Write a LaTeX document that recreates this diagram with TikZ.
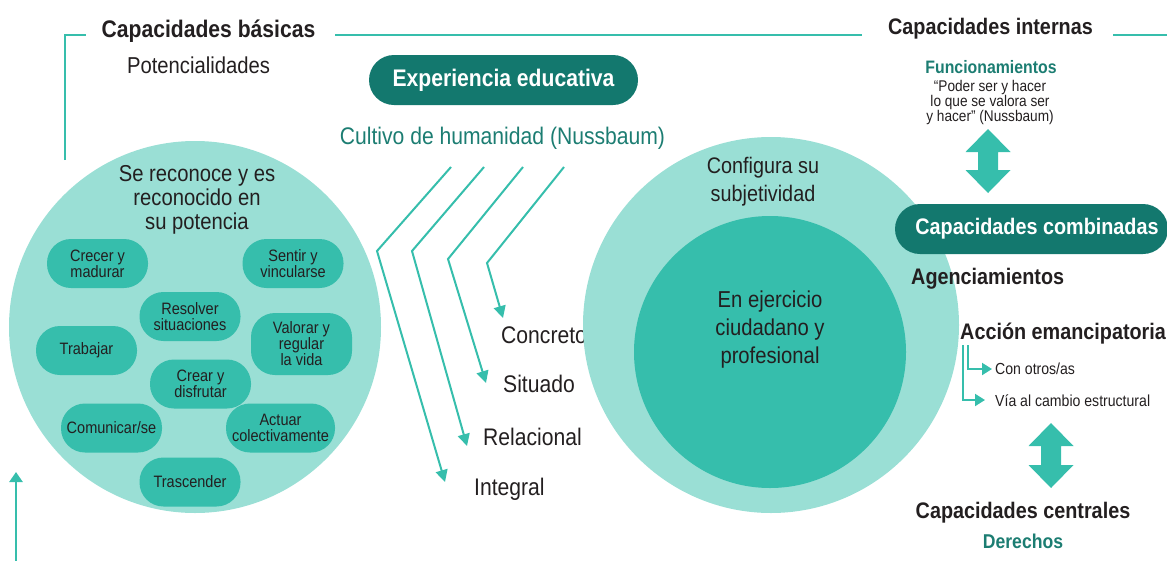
\documentclass[tikz,border=0pt]{standalone}
\usepackage{fontspec}
\setmainfont{Liberation Sans}[FakeStretch=0.88]
\usetikzlibrary{arrows.meta}
\definecolor{dteal}{RGB}{19,120,110}
\definecolor{mteal}{RGB}{54,190,172}
\definecolor{lteal}{RGB}{154,223,213}
\definecolor{tealtxt}{RGB}{28,125,114}
\definecolor{ink}{RGB}{35,31,32}
\newcommand{\fatdblarrow}[3]{% center x, top y, bottom y
  \fill[mteal] (#1,#2) -- ++(22.5,23) -- ++(-12.5,0) -- (#1+10,#3-23) -- ++(12.5,0) -- (#1,#3)
    -- ++(-22.5,-23) -- ++(12.5,0) -- (#1-10,#2+23) -- ++(-12.5,0) -- cycle;}
\begin{document}
\begin{tikzpicture}[x=1pt,y=-1pt,
  every node/.style={inner sep=0pt, text=ink},
  ttl/.style={font=\fontsize{24}{26}\selectfont\bfseries},
  rttl/.style={font=\fontsize{22.5}{26}\selectfont\bfseries},
  big/.style={font=\fontsize{23}{24}\selectfont},
  lbl/.style={font=\fontsize{24}{26}\selectfont},
  sml/.style={font=\fontsize{16}{16}\selectfont},
  pill/.style={fill=mteal, rounded corners=24pt, minimum width=101pt, minimum height=49pt,
    align=center, font=\fontsize{16.5}{16}\selectfont},
  darkpill/.style={fill=dteal, rounded corners=25pt, minimum height=50pt, text=white,
    font=\fontsize{24}{26}\selectfont\bfseries},
  topline/.style={draw=mteal, line width=2.5pt},
  thinarrow/.style={draw=mteal, line width=2pt, -{Triangle[width=12pt,length=12pt]}},
  brarrow/.style={draw=mteal, line width=2pt, -{Triangle[width=12pt,length=10pt]}}
]
\useasboundingbox (0,0) rectangle (1167,560);
\clip (0,0) rectangle (1167,560);

% ---- top frame lines
\node[ttl, anchor=base] (capb) at (208.5,37) {Capacidades básicas};
\node[rttl, anchor=base] (capi) at (990.5,34) {Capacidades internas};
\coordinate (fl0) at (65,160);
\coordinate (fl1) at (86,35);
\draw[topline] (fl0) |- (fl1);
\coordinate (tl0) at (335,35);
\coordinate (tl1) at (862,35);
\draw[topline] (tl0) -- (tl1);
\coordinate (tr0) at (1113,35);
\coordinate (tr1) at (1167,35);
\draw[topline] (tr0) -- (tr1);

\node[big, anchor=base] (pot) at (198.5,73) {Potencialidades};

% ---- centre top
\node[darkpill, minimum width=269pt] (exp) at (503.5,80) {Experiencia educativa};
\node[lbl, text=tealtxt, anchor=base] (cult) at (502.5,144) {Cultivo de humanidad (Nussbaum)};

% ---- left circle
\node[circle, fill=lteal, minimum size=372pt] (lc) at (195,327) {};
\node[big, align=center, anchor=base] (lct) at (197,229) {Se reconoce y es\\reconocido en\\su potencia};
\node[pill] (p1) at (97.5,263.5) {Crecer y\\madurar};
\node[pill] (p2) at (293,263.5) {Sentir y\\vincularse};
\node[pill] (p3) at (190,316.5) {Resolver\\situaciones};
\node[pill] (p4) at (86.5,350.5) {Trabajar};
\node[pill, minimum height=62pt] (p5) at (301.5,344) {Valorar y\\regular\\la vida};
\node[pill] (p6) at (200.5,384) {Crear y\\disfrutar};
\node[pill] (p7) at (111.5,428) {Comunicar/se};
\node[pill, minimum width=109pt] (p8) at (280.5,428) {Actuar\\colectivamente};
\node[pill] (p9) at (190,482) {Trascender};

% left bottom arrow
\coordinate (la0) at (16,562);
\coordinate (la1) at (16,472);
\draw[draw=mteal, line width=2.5pt, -{Triangle[width=13pt,length=10pt]}] (la0) -- (la1);

% ---- bent arrows
\node[lbl, anchor=base west] (concreto) at (501,343) {Concreto};
\node[lbl, anchor=base west] (situado) at (503,392) {Situado};
\node[lbl, anchor=base west] (relacional) at (483,445) {Relacional};
\node[lbl, anchor=base west] (integral) at (474,495) {Integral};

\coordinate (s1) at (451,167); \coordinate (b1) at (377,251); \coordinate (e1) at (445,482);
\coordinate (s2) at (484,167); \coordinate (b2) at (412,251); \coordinate (e2) at (467,446);
\coordinate (s3) at (523,167); \coordinate (b3) at (448,259); \coordinate (e3) at (486,383);
\coordinate (s4) at (564,167); \coordinate (b4) at (487,263); \coordinate (e4) at (503,318);
\draw[thinarrow] (s1) -- (b1) -- (e1);
\draw[thinarrow] (s2) -- (b2) -- (e2);
\draw[thinarrow] (s3) -- (b3) -- (e3);
\draw[thinarrow] (s4) -- (b4) -- (e4);

% ---- right circles
\node[circle, fill=lteal, minimum size=376pt] (rc) at (771,325) {};
\node[circle, fill=mteal, minimum size=272pt] (ic) at (770,352) {};
\node[font=\fontsize{22.5}{28}\selectfont, align=center, anchor=base] (conf) at (763,201) {Configura su\\subjetividad};
\node[font=\fontsize{23}{28}\selectfont, align=center, anchor=base] (ejer) at (770,363) {En ejercicio\\ciudadano y\\profesional};

% ---- right column
\node[font=\fontsize{18}{20}\selectfont\bfseries, text=tealtxt, anchor=base] (fun) at (991,73) {Funcionamientos};
\node[font=\fontsize{15.5}{15}\selectfont, align=center, anchor=base] (quote) at (990,121) {“Poder ser y hacer\\lo que se valora ser\\y hacer" (Nussbaum)};
\fatdblarrow{988}{129}{193}
\node[darkpill, minimum width=273pt, font=\fontsize{22.5}{26}\selectfont\bfseries, text=white] (comb) at (1031.5,229) {\hspace*{11pt}Capacidades combinadas};
\node[rttl, anchor=base west] (agen) at (911,284) {Agenciamientos};
\node[rttl, anchor=base west] (acc) at (960,339) {Acción emancipatoria};
\node[sml, anchor=base west] (otros) at (995,374) {Con otros/as};
\node[sml, anchor=base west] (via) at (995,406) {Vía al cambio estructural};
\coordinate (br1) at (963,345); \coordinate (bt1) at (985,400);
\coordinate (br2) at (968,345); \coordinate (bt2) at (992,369);
\draw[brarrow] (br1) |- (bt1);
\draw[brarrow] (br2) |- (bt2);
\fatdblarrow{1051}{423}{488}
\node[rttl, anchor=base] (cent) at (1023,518) {Capacidades centrales};
\node[font=\fontsize{20}{22}\selectfont\bfseries, text=tealtxt, anchor=base] (der) at (1023,548) {Derechos};
\end{tikzpicture}
\end{document}
